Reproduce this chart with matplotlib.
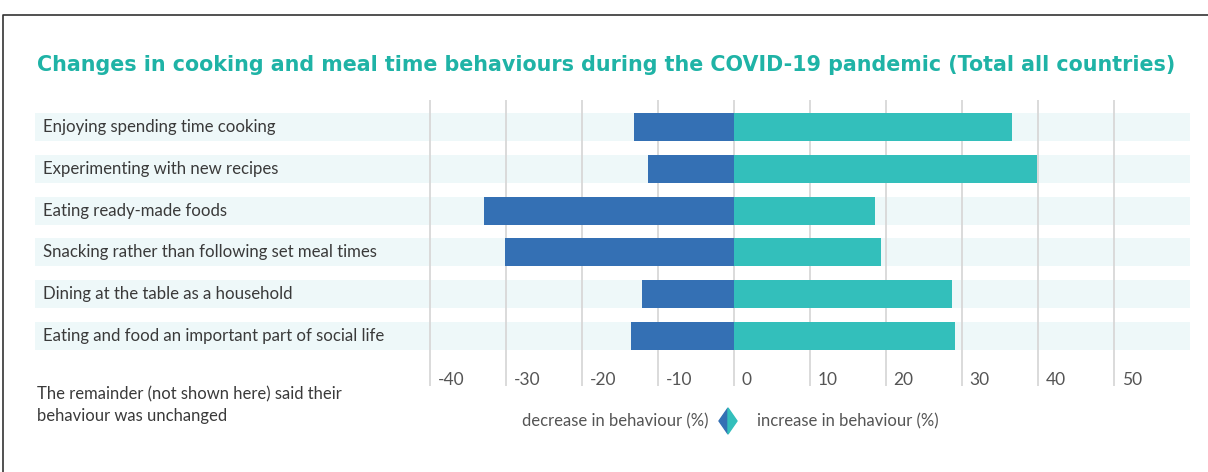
import matplotlib.pyplot as plt
from matplotlib.patches import Polygon
from matplotlib.lines import Line2D

categories = [
    "Enjoying spending time cooking",
    "Experimenting with new recipes",
    "Eating ready-made foods",
    "Snacking rather than following set meal times",
    "Dining at the table as a household",
    "Eating and food an important part of social life",
]
decrease = [-13.2, -11.3, -32.9, -30.1, -12.1, -13.6]
increase = [36.6, 39.8, 18.5, 19.3, 28.7, 29.1]
ticks = [-40, -30, -20, -10, 0, 10, 20, 30, 40, 50]

BLUE = "#3470b4"
TEAL = "#33bfbb"
STRIPE = "#eef8f9"
TITLE = "#1fb3a6"
TEXT = "#3a3a3a"

plt.rcParams['font.family'] = ['Lato', 'DejaVu Sans']

W, H = 1208, 472
fig = plt.figure(figsize=(W / 100, H / 100), dpi=100)

# axes placed in pixel terms
left, right, top, bottom = 35, 1190, 100, 386
ax = fig.add_axes([left / W, 1 - bottom / H, (right - left) / W, (bottom - top) / H])
ax.set_xlim(-92, 60)
ax.set_ylim(6.2, -0.65)
ax.axis("off")

y = list(range(len(categories)))
bh = 0.67

# background stripes
ax.barh(y, [152] * len(y), left=-92, height=bh, color=STRIPE, zorder=0)
# grid
ax.vlines(ticks, 6.2, -0.65, color="#dadada", linewidth=1.4, zorder=1)
# bars
ax.barh(y, decrease, height=bh, color=BLUE, zorder=2)
ax.barh(y, increase, height=bh, color=TEAL, zorder=2)

for yi, c in zip(y, categories):
    ax.text(-91, yi, c, ha="left", va="center", fontsize=12.1, color=TEXT, zorder=3)

for t in ticks:
    ax.text(t + 1.0, 6.05, str(t), ha="left", va="center", fontsize=12.5, color="#555555")

fig.text(37 / W, 1 - 65 / H,
         "Changes in cooking and meal time behaviours during the COVID-19 pandemic (Total all countries)",
         ha="left", va="center", fontsize=14.9, fontweight="bold", color=TITLE,
         family=["DejaVu Sans"])

fig.text(37 / W, 1 - 405 / H, "The remainder (not shown here) said their\nbehaviour was unchanged",
         ha="left", va="center", fontsize=12, color=TEXT, linespacing=1.45)

# legend
fig.text(708 / W, 1 - 421 / H, "decrease in behaviour (%)", ha="right", va="center",
         fontsize=12, color="#555555")
fig.text(757 / W, 1 - 421 / H, "increase in behaviour (%)", ha="left", va="center",
         fontsize=12, color="#555555")
cx, cy, dx, dy = 728, 421, 9, 13
fig.patches.append(Polygon([((cx) / W, 1 - (cy - dy) / H), ((cx - dx) / W, 1 - cy / H),
                            (cx / W, 1 - (cy + dy) / H)], closed=True, color=BLUE,
                           transform=fig.transFigure))
fig.patches.append(Polygon([((cx) / W, 1 - (cy - dy) / H), ((cx + dx) / W, 1 - cy / H),
                            (cx / W, 1 - (cy + dy) / H)], closed=True, color=TEAL,
                           transform=fig.transFigure))

# frame
fig.lines.append(Line2D([3 / W, 3 / W, 1], [0, 1 - 15 / H, 1 - 15 / H], color="#333333",
                        linewidth=1.2, transform=fig.transFigure))

fig.savefig("out.png", dpi=100)
